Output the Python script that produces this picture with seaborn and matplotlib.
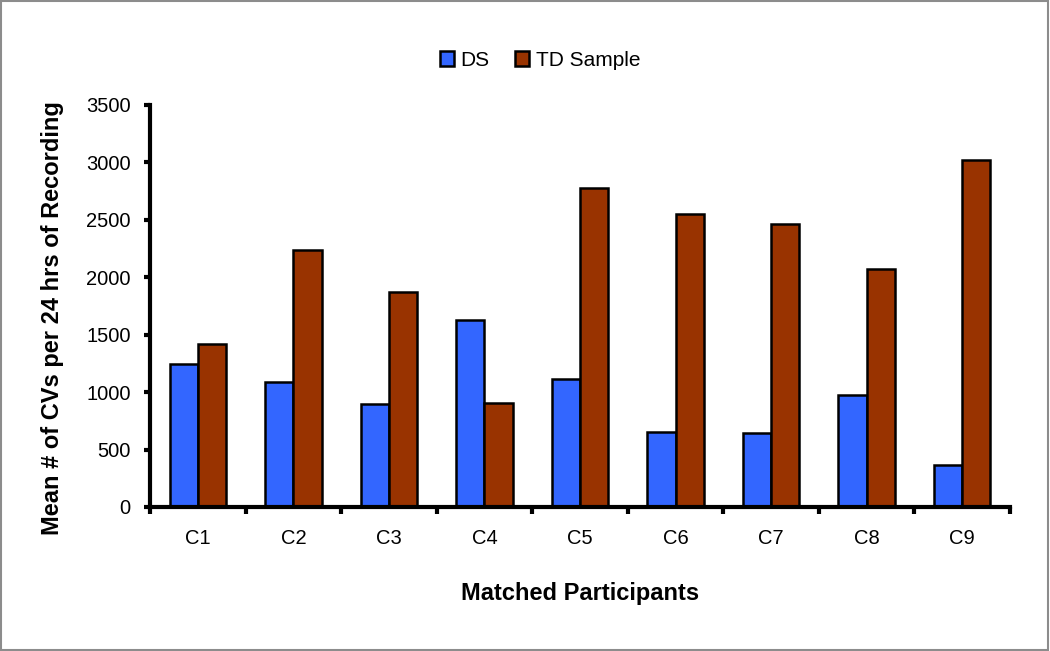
"""Средние значения CV на 24 часа записи: DS против TD."""

import matplotlib
import matplotlib.pyplot as plt
import numpy as np
import pandas as pd
import seaborn as sns
from matplotlib.patches import Rectangle

matplotlib.use("Agg")

# ============================================================
# ДАННЫЕ
# ============================================================

participants = ["C1", "C2", "C3", "C4", "C5", "C6", "C7", "C8", "C9"]
ds_values = [1245, 1085, 900, 1625, 1115, 655, 645, 975, 370]
td_values = [1420, 2235, 1875, 905, 2775, 2555, 2460, 2075, 3025]
series_names = ["DS", "TD Sample"]
series_colors = ["#3366FF", "#993300"]
y_ticks = [0, 500, 1000, 1500, 2000, 2500, 3000, 3500]

df = pd.DataFrame({
    "participant": participants * 2,
    "value": ds_values + td_values,
    "group": [series_names[0]] * len(participants) + [series_names[1]] * len(participants),
})

# ============================================================
# ГРАФИК
# ============================================================

sns.set_style("white")
plt.rcParams["font.family"] = ["Liberation Sans", "DejaVu Sans"]
plt.rcParams["text.color"] = "black"
plt.rcParams["axes.labelcolor"] = "black"
plt.rcParams["xtick.color"] = "black"
plt.rcParams["ytick.color"] = "black"

fig = plt.figure(figsize=(10.5, 6.51), dpi=100)
ax = fig.add_axes([150 / 1050, 1 - 507 / 651, 860 / 1050, 402 / 651])

sns.barplot(
    data=df, x="participant", y="value", hue="group",
    palette=series_colors, saturation=1, width=0.59,
    edgecolor="black", linewidth=1.8, ax=ax, legend=True,
)

ax.set_xlim(-0.5, len(participants) - 0.5)
ax.set_ylim(0, 3500)
ax.set_yticks(y_ticks)
ax.set_yticklabels([str(t) for t in y_ticks], fontsize=14.5)
ax.tick_params(axis="y", length=4, width=3, direction="out", pad=10, left=True)
ax.set_xticks(np.arange(len(participants)))
ax.set_xticklabels(participants, fontsize=14.5)
ax.tick_params(axis="x", which="major", length=0, pad=16)
ax.set_xticks(np.arange(len(participants) + 1) - 0.5, minor=True)
ax.tick_params(axis="x", which="minor", length=5, width=3, direction="out", bottom=True)

for side in ["top", "right"]:
    ax.spines[side].set_visible(False)
for side in ["left", "bottom"]:
    ax.spines[side].set_linewidth(3)
    ax.spines[side].set_color("black")

ax.set_xlabel("Matched Participants", fontsize=17, fontweight="bold", labelpad=24)
ax.set_ylabel("Mean # of CVs per 24 hrs of Recording", fontsize=17, fontweight="bold")
ax.yaxis.set_label_coords(-0.1, 0.47)

handles, labels = ax.get_legend_handles_labels()
ax.get_legend().remove()
fig.legend(
    handles, labels, loc="center", bbox_to_anchor=(540 / 1050, 1 - 60 / 651),
    ncol=2, frameon=False, fontsize=15, handlelength=0.7, handleheight=0.7,
    handletextpad=0.3, columnspacing=1.2,
)

fig.patches.append(Rectangle((0.001, 0.002), 0.997, 0.996, transform=fig.transFigure,
                             fill=False, edgecolor="#8c8c8c", linewidth=1.5))

fig.savefig("out.png", dpi=100)
plt.close(fig)
